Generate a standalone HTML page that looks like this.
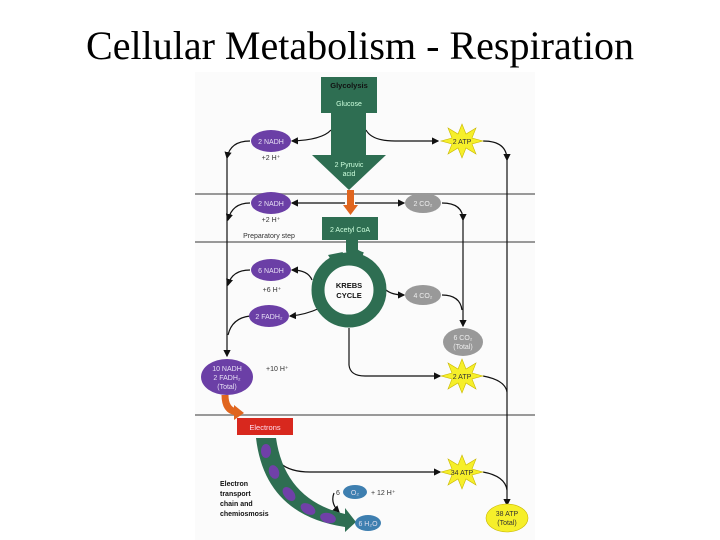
<!DOCTYPE html>
<html><head><style>
html,body{margin:0;padding:0;background:#fff;width:720px;height:540px;overflow:hidden}
svg{position:absolute;left:0;top:0}
</style></head><body>
<svg width="720" height="540" viewBox="0 0 720 540" xmlns="http://www.w3.org/2000/svg" font-family="Liberation Sans, sans-serif">
<defs>
<marker id="a" markerWidth="6" markerHeight="6" refX="5" refY="3" orient="auto"><path d="M0,0 L6,3 L0,6 z" fill="#111"/></marker>
</defs>
<text x="360" y="59" text-anchor="middle" font-family="Liberation Serif, serif" font-size="40" fill="#000" textLength="548" lengthAdjust="spacingAndGlyphs">Cellular Metabolism - Respiration</text>
<rect x="195" y="72" width="340" height="468" fill="#fbfbfb"/>
<line x1="195" y1="194" x2="535" y2="194" stroke="#999" stroke-width="2"/>
<line x1="195" y1="242" x2="535" y2="242" stroke="#999" stroke-width="2"/>
<line x1="195" y1="415" x2="535" y2="415" stroke="#999" stroke-width="2"/>
<g fill="none" stroke="#111" stroke-width="1.2">
<path d="M331,130 Q322,140 292,141" marker-end="url(#a)"/>
<path d="M250,141 Q230,141 227,158" marker-end="url(#a)"/>
<line x1="227" y1="155" x2="227" y2="356" marker-end="url(#a)"/>
<path d="M366,130 Q372,141 395,141 L438,141" marker-end="url(#a)"/>
<path d="M483,141 Q507,141 507,160" marker-end="url(#a)"/>
<line x1="507" y1="158" x2="507" y2="505" marker-end="url(#a)"/>
<line x1="345" y1="203" x2="292" y2="203" marker-end="url(#a)"/>
<line x1="355" y1="203" x2="404" y2="203" marker-end="url(#a)"/>
<path d="M250,203 Q232,203 228,220" marker-end="url(#a)"/>
<path d="M442,203 Q463,203 463,220" marker-end="url(#a)"/>
<line x1="463" y1="218" x2="463" y2="326" marker-end="url(#a)"/>
<path d="M312,280 Q308,270 292,270" marker-end="url(#a)"/>
<path d="M250,270 Q232,270 228,285" marker-end="url(#a)"/>
<path d="M386,290 Q392,295 404,295" marker-end="url(#a)"/>
<path d="M442,295 Q460,295 462,310" />
<path d="M320,308 Q305,315 290,316" marker-end="url(#a)"/>
<path d="M250,316 Q232,318 228,335"/>
<path d="M349,328 L349,365 Q350,376 365,376 L440,376" marker-end="url(#a)"/>
<path d="M483,376 Q505,380 507,392"/>
<path d="M280,463 Q290,472 310,472 L440,472" marker-end="url(#a)"/>
<path d="M483,472 Q505,476 507,490"/>
<path d="M334,493 Q330,503 339,512" marker-end="url(#a)"/>
</g>
<rect x="321" y="77" width="56" height="36" fill="#2e6e52"/>
<rect x="331" y="112" width="35" height="44" fill="#2e6e52"/>
<polygon points="312,155 386,155 349,190" fill="#2e6e52"/>
<text x="349" y="88" text-anchor="middle" font-size="7.5" font-weight="bold" fill="#111">Glycolysis</text>
<text x="349" y="106" text-anchor="middle" font-size="7" fill="#cfd">Glucose</text>
<text x="349" y="167" text-anchor="middle" font-size="7" fill="#cfd">2 Pyruvic</text>
<text x="349" y="176" text-anchor="middle" font-size="7" fill="#cfd">acid</text>
<rect x="347" y="190" width="7" height="16" fill="#e0651e"/>
<polygon points="343,205 358,205 350.5,215" fill="#e0651e"/>
<rect x="322" y="217" width="56" height="23" fill="#2e6e52"/>
<text x="350" y="232" text-anchor="middle" font-size="7" fill="#cfd">2 Acetyl CoA</text>
<circle cx="349" cy="290" r="31" fill="none" stroke="#2e6e52" stroke-width="13"/>
<path d="M352,240 L352,250 Q352,255 362,258" fill="none" stroke="#2e6e52" stroke-width="12"/>
<polygon points="328,255 343,252 336,268" fill="#2e6e52"/>
<text x="349" y="288" text-anchor="middle" font-size="7.5" font-weight="bold" fill="#111">KREBS</text>
<text x="349" y="298" text-anchor="middle" font-size="7.5" font-weight="bold" fill="#111">CYCLE</text>
<g fill="#6b3fa6">
<ellipse cx="271" cy="141" rx="20" ry="11"/>
<ellipse cx="271" cy="203" rx="20" ry="11"/>
<ellipse cx="271" cy="270" rx="20" ry="11"/>
<ellipse cx="269" cy="316" rx="20" ry="11"/>
<ellipse cx="227" cy="377" rx="26" ry="18"/>
</g>
<g fill="#e8e0f5" font-size="7" text-anchor="middle">
<text x="271" y="144">2 NADH</text>
<text x="271" y="206">2 NADH</text>
<text x="271" y="273">6 NADH</text>
<text x="269" y="319">2 FADH₂</text>
<text x="227" y="371">10 NADH</text>
<text x="227" y="380">2 FADH₂</text>
<text x="227" y="389">(Total)</text>
</g>
<g fill="#333" font-size="7" text-anchor="middle">
<text x="271" y="160">+2 H⁺</text>
<text x="271" y="222">+2 H⁺</text>
<text x="269" y="238">Preparatory step</text>
<text x="272" y="292">+6 H⁺</text>
<text x="266" y="371" text-anchor="start">+10 H⁺</text>
</g>
<g fill="#999">
<ellipse cx="423" cy="203" rx="18" ry="10"/>
<ellipse cx="423" cy="295" rx="18" ry="10"/>
<ellipse cx="463" cy="342" rx="20" ry="14"/>
</g>
<g fill="#eee" font-size="7" text-anchor="middle">
<text x="423" y="206">2 CO₂</text>
<text x="423" y="298">4 CO₂</text>
<text x="463" y="340">6 CO₂</text>
<text x="463" y="349">(Total)</text>
</g>
<g fill="#f6ef2a" stroke="#c9b800" stroke-width="0.6">
<polygon points="462,124 466,134 476,128 472,138 483,141 472,144 476,154 466,148 462,158 458,148 448,154 452,144 441,141 452,138 448,128 458,134"/>
<polygon points="462,359 466,369 476,363 472,373 483,376 472,379 476,389 466,383 462,393 458,383 448,389 452,379 441,376 452,373 448,363 458,369"/>
<polygon points="462,455 466,465 476,459 472,469 483,472 472,475 476,485 466,479 462,489 458,479 448,485 452,475 441,472 452,469 448,459 458,465"/>
<ellipse cx="507" cy="518" rx="21" ry="14"/>
</g>
<g fill="#333" font-size="7" text-anchor="middle">
<text x="462" y="144">2 ATP</text>
<text x="462" y="379">2 ATP</text>
<text x="462" y="475">34 ATP</text>
<text x="507" y="516">38 ATP</text>
<text x="507" y="525">(Total)</text>
</g>
<path d="M225,395 Q225,410 236,412" fill="none" stroke="#e0651e" stroke-width="7"/>
<polygon points="234,405 244,413 234,420" fill="#e0651e"/>
<rect x="237" y="418" width="56" height="17" fill="#d8281e"/>
<text x="265" y="430" text-anchor="middle" font-size="7.5" fill="#fde">Electrons</text>
<path d="M256,438 L276,438 Q285,500 345,514 L345,508 L356,522 L345,532 L345,527 Q265,515 256,438 z" fill="#2e6e52"/>
<g fill="#7040a8">
<ellipse cx="266" cy="451" rx="5" ry="7"/>
<ellipse cx="274" cy="472" rx="5" ry="7" transform="rotate(-20 274 472)"/>
<ellipse cx="289" cy="494" rx="5" ry="8" transform="rotate(-40 289 494)"/>
<ellipse cx="308" cy="509" rx="5" ry="8" transform="rotate(-60 308 509)"/>
<ellipse cx="328" cy="518" rx="5" ry="8" transform="rotate(-75 328 518)"/>
</g>
<g font-size="7" font-weight="bold" fill="#111">
<text x="220" y="486">Electron</text>
<text x="220" y="496">transport</text>
<text x="220" y="506">chain and</text>
<text x="220" y="516">chemiosmosis</text>
</g>
<g fill="#3e7fb0">
<ellipse cx="355" cy="492" rx="12" ry="7"/>
<ellipse cx="368" cy="523" rx="13" ry="8"/>
</g>
<text x="336" y="495" font-size="7" fill="#333">6</text>
<text x="355" y="495" text-anchor="middle" font-size="7" fill="#dde">O₂</text>
<text x="371" y="495" font-size="7" fill="#333">+ 12 H⁺</text>
<text x="368" y="526" text-anchor="middle" font-size="7" fill="#dde">6 H₂O</text>
</svg>
</body></html>
